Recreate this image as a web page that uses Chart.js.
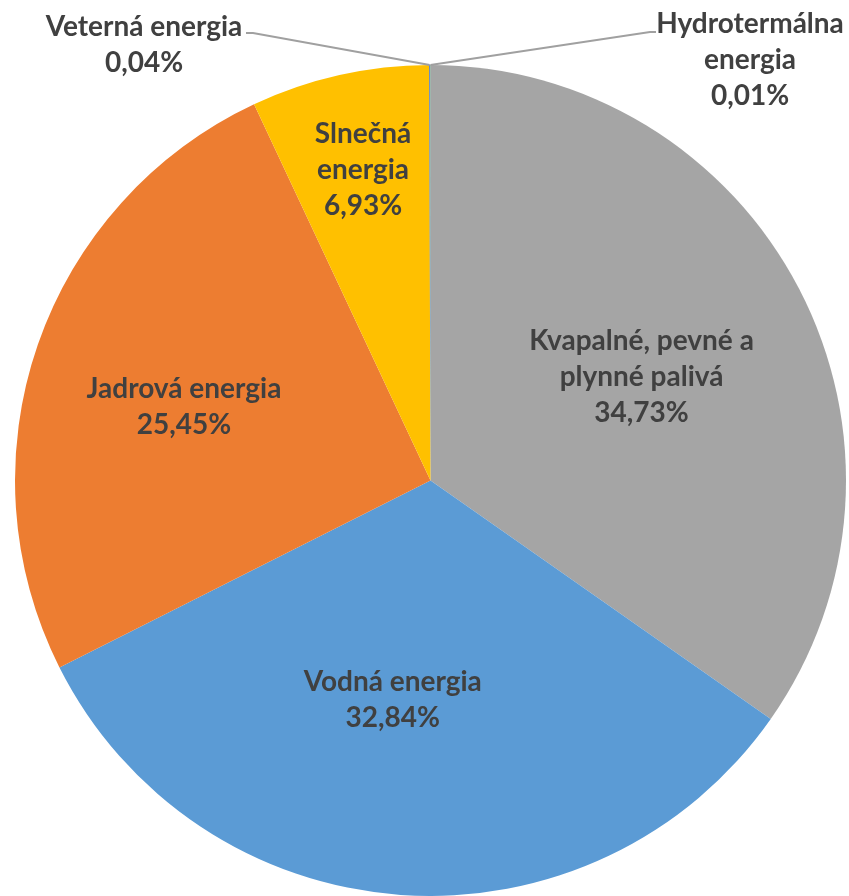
<!DOCTYPE html>
<html>
<head>
<meta charset="utf-8">
<script src="https://cdn.jsdelivr.net/npm/chart.js@4/dist/chart.umd.min.js"></script>
<style>
	html, body { margin: 0; padding: 0; background: #fff; overflow: hidden; }
	#wrap { width: 849px; height: 896px; }
</style>
</head>
<body>
<div id="wrap"><canvas id="chPie" width="849" height="896"></canvas></div>
<script>
// Data (clockwise from 12 o'clock)
const categories = ['Kvapalné, pevné a plynné palivá', 'Vodná energia', 'Jadrová energia', 'Slnečná energia', 'Veterná energia', 'Hydrotermálna energia'];
const shares = [34.73, 32.84, 25.45, 6.93, 0.04, 0.01];
const labelLines = [['Kvapalné, pevné a', 'plynné palivá'], ['Vodná energia'], ['Jadrová energia'], ['Slnečná', 'energia'], ['Veterná energia'], ['Hydrotermálna', 'energia']];
const sliceColors = ['#A5A5A5', '#5B9BD5', '#ED7D31', '#FFC000', '#4472C4', '#70AD47'];

// label placement inside the slices: fraction of radius + small turn (degrees) from the mid angle
const labelRadius = [0.566, 0.537, 0.619, 0.765];
const labelTurn = [1.3, 5.6, -2.5, 0.4];

const FONT = 'bold 28px Lato, "Open Sans", sans-serif';
const LINE_H = 36;

function pct (v) {
	return v.toFixed(2).replace('.', ',') + '%';
}

function drawBlock (ctx, lines, cx, cy) {
	var top = cy - (lines.length - 1) * LINE_H / 2;
	lines.forEach(function (t, i) {
		ctx.fillText(t, cx, top + i * LINE_H);
	});
}

const sliceLabels = {
	id: 'sliceLabels',
	afterDatasetsDraw: function (chart) {
		var ctx = chart.ctx;
		var arcs = chart.getDatasetMeta(0).data;
		ctx.save();
		ctx.font = FONT;
		ctx.fillStyle = '#404040';
		ctx.textAlign = 'center';
		ctx.textBaseline = 'middle';

		arcs.forEach(function (arc, i) {
			var p = arc.getProps(['x', 'y', 'startAngle', 'endAngle', 'outerRadius'], true);
			var mid = (p.startAngle + p.endAngle) / 2;
			var lines = labelLines[i].concat([pct(shares[i])]);

			if (i < labelRadius.length) { //Big slices, label inside
				var a = mid + labelTurn[i] * Math.PI / 180;
				var r = p.outerRadius * labelRadius[i];
				drawBlock(ctx, lines, p.x + Math.cos(a) * r, p.y + Math.sin(a) * r);
				return;
			}

			// tiny slices, label outside with a leader line
			var ex = p.x + Math.cos(mid) * p.outerRadius;
			var ey = p.y + Math.sin(mid) * p.outerRadius;
			ctx.strokeStyle = '#A0A0A0';
			ctx.lineWidth = 2;
			ctx.beginPath();
			if (i === 4) {
				ctx.moveTo(ex, ey);
				ctx.lineTo(253, 33);
				ctx.lineTo(246, 33);
				ctx.stroke();
				drawBlock(ctx, lines, 144, 45);
			} else {
				ctx.moveTo(ex, ey);
				ctx.lineTo(650, 32);
				ctx.lineTo(656, 32);
				ctx.stroke();
				drawBlock(ctx, lines, 750, 60);
			}
		});
		ctx.restore();
	}
};

new Chart(document.getElementById('chPie'), {
	type: 'pie',
	data: {
		labels: categories,
		datasets: [
			{
				data: shares,
				backgroundColor: sliceColors,
				borderWidth: 0
			}
		]
	},
	options: {
		responsive: false,
		animation: false,
		layout: { padding: { top: 65, left: 12, right: 0, bottom: 0 } },
		plugins: {
			legend: { display: false },
			tooltip: { enabled: false }
		}
	},
	plugins: [sliceLabels]
});
</script>
</body>
</html>
